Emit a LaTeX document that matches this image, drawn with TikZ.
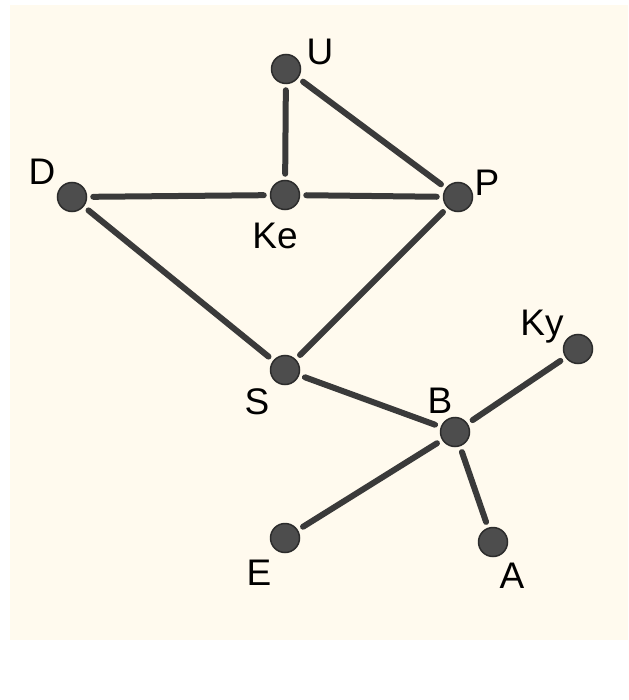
\documentclass[tikz,border=0pt]{standalone}
\usepackage{fontspec}
\setmainfont{Liberation Sans}
\definecolor{cream}{HTML}{FFFAEE}
\definecolor{nodefill}{HTML}{4D4D4D}
\definecolor{nodeline}{HTML}{2C2C2C}
\definecolor{edgecol}{HTML}{3A3A3A}
\begin{document}
\begin{tikzpicture}[x=1pt,y=-1pt,
  vtx/.style={circle,fill=nodefill,draw=nodeline,line width=1.5pt,minimum size=29pt,inner sep=0pt},
  lbl/.style={font=\fontsize{37}{37}\selectfont,text=black,inner sep=0pt},
  edge/.style={draw=edgecol,line width=6pt,line cap=round,shorten >=6pt,shorten <=6pt}]
\useasboundingbox (0,0) rectangle (628,700);
\fill[white] (0,0) rectangle (628,700);
\fill[cream] (10,5) rectangle (628,640);
% vertices
\node[vtx] (U) at (286,69) {};
\node[vtx] (Ke) at (285,195) {};
\node[vtx] (P) at (458,197) {};
\node[vtx] (D) at (72,197) {};
\node[vtx] (S) at (285,370) {};
\node[vtx] (B) at (455,432) {};
\node[vtx] (Ky) at (578,349) {};
\node[vtx] (E) at (285,538) {};
\node[vtx] (A) at (493,542) {};
% labels
\node[lbl] (lU) at (320,52) {U};
\node[lbl] (lKe) at (275,236) {Ke};
\node[lbl] (lP) at (487,183) {P};
\node[lbl] (lD) at (42,172) {D};
\node[lbl] (lS) at (257,402) {S};
\node[lbl] (lB) at (440,401) {B};
\node[lbl] (lKy) at (542,327) {Ky};
\node[lbl] (lE) at (259,573) {E};
\node[lbl] (lA) at (512,576) {A};
% edges
\path[edge] (U) -- (Ke);
\path[edge] (U) -- (P);
\path[edge] (D) -- (Ke);
\path[edge] (Ke) -- (P);
\path[edge] (D) -- (S);
\path[edge] (S) -- (P);
\path[edge] (S) -- (B);
\path[edge] (B) -- (Ky);
\path[edge] (B) -- (E);
\path[edge] (B) -- (A);
\end{tikzpicture}
\end{document}
